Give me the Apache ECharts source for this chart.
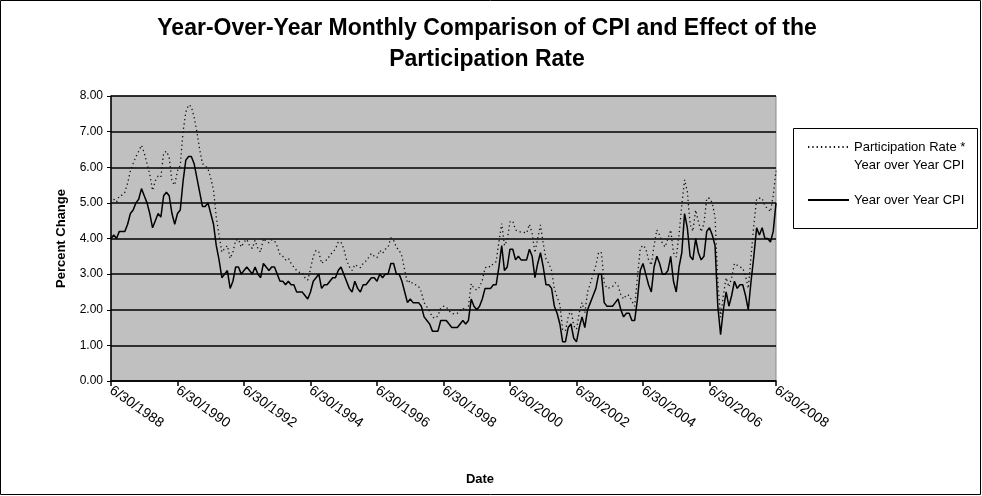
<!DOCTYPE html>
<html>
<head>
<meta charset="utf-8">
<script src="https://cdn.jsdelivr.net/npm/echarts@6/dist/echarts.min.js"></script>
<style>
  html, body { margin: 0; padding: 0; background: #fff; }
  #chart { width: 982px; height: 496px; }
</style>
</head>
<body>
<div id="chart"></div>
<script>
// ---- data (monthly, 6/30/1988 .. 6/30/2008) ----
const startYear = 1988, startMonth = 6, monthCount = 241;

const cpiYoY = [
  4.0,4.1,4.0,4.2,4.2,4.2,4.4,4.7,4.8,5.0,5.1,5.4,
  5.2,5.0,4.7,4.3,4.5,4.7,4.6,5.2,5.3,5.2,4.7,4.4,
  4.7,4.8,5.6,6.2,6.3,6.3,6.1,5.7,5.3,4.9,4.9,5.0,
  4.7,4.4,3.8,3.4,2.9,3.0,3.1,2.6,2.8,3.2,3.2,3.0,
  3.1,3.2,3.1,3.0,3.2,3.0,2.9,3.3,3.2,3.1,3.2,3.2,
  3.0,2.8,2.8,2.7,2.8,2.7,2.7,2.5,2.5,2.5,2.4,2.3,
  2.5,2.8,2.9,3.0,2.6,2.7,2.7,2.8,2.9,2.9,3.1,3.2,
  3.0,2.8,2.6,2.5,2.8,2.6,2.5,2.7,2.7,2.8,2.9,2.9,
  2.8,3.0,2.9,3.0,3.0,3.3,3.3,3.0,3.0,2.8,2.5,2.2,
  2.3,2.2,2.2,2.2,2.1,1.8,1.7,1.6,1.4,1.4,1.4,1.7,
  1.7,1.7,1.6,1.5,1.5,1.5,1.6,1.7,1.6,1.7,2.3,2.1,
  2.0,2.1,2.3,2.6,2.6,2.6,2.7,2.7,3.2,3.8,3.1,3.2,
  3.7,3.7,3.4,3.5,3.4,3.4,3.4,3.7,3.5,2.9,3.3,3.6,
  3.2,2.7,2.7,2.6,2.1,1.9,1.6,1.1,1.1,1.5,1.6,1.2,
  1.1,1.5,1.8,1.5,2.0,2.2,2.4,2.6,3.0,3.0,2.2,2.1,
  2.1,2.1,2.2,2.3,2.0,1.8,1.9,1.9,1.7,1.7,2.3,3.1,
  3.3,3.0,2.7,2.5,3.2,3.5,3.3,3.0,3.0,3.1,3.5,2.8,
  2.5,3.2,3.6,4.7,4.3,3.5,3.4,4.0,3.6,3.4,3.5,4.2,
  4.3,4.1,3.8,2.1,1.3,2.0,2.5,2.1,2.4,2.8,2.6,2.7,
  2.7,2.4,2.0,2.8,3.5,4.3,4.1,4.3,4.0,4.0,3.9,4.2,
  5.0
];

const participationAdjCPI = [
  5.00,5.10,5.02,5.20,5.22,5.30,5.55,5.90,6.10,6.30,6.45,6.62,
  6.40,6.10,5.80,5.35,5.62,5.75,5.72,6.40,6.45,6.28,5.60,5.50,
  5.90,6.05,7.00,7.55,7.75,7.70,7.40,7.00,6.50,6.10,6.05,5.95,
  5.70,5.35,4.60,4.10,3.62,3.72,3.80,3.44,3.62,3.95,3.98,3.76,
  3.90,3.98,3.80,3.72,3.95,3.72,3.62,4.00,3.92,3.88,3.96,3.94,
  3.78,3.55,3.50,3.40,3.45,3.30,3.20,3.10,3.05,3.05,2.90,2.83,
  3.15,3.50,3.67,3.62,3.30,3.37,3.40,3.53,3.62,3.70,3.90,3.90,
  3.72,3.40,3.21,3.10,3.27,3.22,3.18,3.30,3.37,3.47,3.58,3.50,
  3.46,3.67,3.58,3.70,3.75,4.02,3.95,3.75,3.67,3.50,3.10,2.75,
  2.82,2.72,2.70,2.66,2.50,2.20,2.08,1.95,1.79,1.76,1.83,2.05,
  2.10,2.08,1.97,1.90,1.88,1.90,1.97,2.05,1.97,2.10,2.73,2.60,
  2.55,2.64,2.83,3.17,3.23,3.20,3.30,3.35,3.90,4.42,3.80,3.95,
  4.47,4.49,4.24,4.20,4.18,4.17,4.15,4.40,4.14,3.60,4.00,4.38,
  3.86,3.43,3.30,3.10,2.60,2.36,2.15,1.45,1.40,1.80,2.00,1.55,
  1.45,1.92,2.20,1.90,2.50,2.74,3.00,3.25,3.62,3.60,2.76,2.60,
  2.62,2.65,2.76,2.67,2.42,2.30,2.42,2.40,2.24,2.10,2.92,3.72,
  3.81,3.72,3.40,3.25,3.81,4.24,4.10,3.86,3.76,4.00,4.24,3.60,
  3.48,4.10,4.94,5.65,5.32,4.40,4.20,4.80,4.47,4.19,4.42,5.13,
  5.13,5.00,4.60,2.78,1.79,2.40,2.90,2.64,2.90,3.30,3.25,3.20,
  3.17,2.95,2.60,3.50,4.38,5.11,5.13,5.13,4.90,4.85,4.75,5.20,
  5.90
];

const yTicks = [0, 1, 2, 3, 4, 5, 6, 7, 8];
const seriesNames = ['Participation Rate * Year over Year CPI', 'Year over Year CPI'];
const titleText = 'Year-Over-Year Monthly Comparison of CPI and Effect of the\nParticipation Rate';

// month-end date categories, M/D/YYYY
const categories = [];
for (let k = 0; k < monthCount; k++) {
  const m0 = startMonth - 1 + k;
  const y = startYear + Math.floor(m0 / 12);
  const m = (m0 % 12) + 1;
  const d = new Date(y, m, 0).getDate();
  categories.push(m + '/' + d + '/' + y);
}

const FONT = '"Liberation Sans", Arial, sans-serif';
const chart = echarts.init(document.getElementById('chart'), null, { renderer: 'canvas' });

chart.setOption({
  animation: false,
  backgroundColor: '#ffffff',
  title: {
    text: titleText,
    left: 487, top: 13,
    padding: 0,
    textAlign: 'center',
    textStyle: { fontFamily: FONT, fontSize: 23, fontWeight: 'bold', color: '#000', lineHeight: 31 }
  },
  grid: {
    left: 111, right: 206, top: 96, bottom: 115,
    show: true, backgroundColor: '#c0c0c0', borderColor: '#8a8a8a', borderWidth: 1
  },
  graphic: [
    { type: 'rect', shape: { x: 0.5, y: 0.5, width: 980, height: 494 },
      style: { fill: 'none', stroke: '#000', lineWidth: 1 }, z: 100 },
    { type: 'rect', shape: { x: 793.5, y: 128.5, width: 184, height: 100 },
      style: { fill: '#fff', stroke: '#000', lineWidth: 1 }, z: 0 }
  ],
  legend: {
    orient: 'vertical',
    left: 807, top: 120,
    padding: 0,
    itemGap: 17,
    itemWidth: 41, itemHeight: 14,
    selectedMode: false,
    data: seriesNames,
    itemStyle: { opacity: 0, borderWidth: 0 },
    textStyle: {
      fontFamily: FONT, fontSize: 13, color: '#000', lineHeight: 18,
      rich: {
        e: { fontSize: 13, lineHeight: 18 },
        t: { fontFamily: FONT, fontSize: 13, lineHeight: 18, color: '#000' }
      }
    },
    formatter: function (name) {
      if (name === seriesNames[0]) {
        return '{e| }\n{t|Participation Rate *}\n{t|Year over Year CPI}';
      }
      return '{t|Year over Year CPI}';
    }
  },
  xAxis: {
    type: 'category',
    data: categories,
    boundaryGap: false,
    name: 'Date',
    nameLocation: 'middle',
    nameGap: 92,
    nameTextStyle: { fontFamily: FONT, fontSize: 13, fontWeight: 'bold', color: '#000', padding: [0, 0, 0, 73] },
    axisLine: { lineStyle: { color: '#000', width: 1.5 } },
    axisTick: { show: true, interval: 23, length: 5, inside: false, lineStyle: { color: '#000', width: 1.5 } },
    axisLabel: {
      interval: 23, rotate: -35, margin: 8,
      fontFamily: FONT, fontSize: 14, color: '#000'
    },
    splitLine: { show: false }
  },
  yAxis: {
    type: 'value',
    min: yTicks[0], max: yTicks[yTicks.length - 1], interval: 1,
    name: 'Percent Change',
    nameLocation: 'middle',
    nameGap: 43,
    nameRotate: 90,
    nameTextStyle: { fontFamily: FONT, fontSize: 13, fontWeight: 'bold', color: '#000' },
    axisLine: { show: true, lineStyle: { color: '#000', width: 1.5 } },
    axisTick: { show: true, length: 4, lineStyle: { color: '#000', width: 1 } },
    axisLabel: {
      margin: 8, fontFamily: FONT, fontSize: 12, color: '#000',
      formatter: function (v) { return v.toFixed(2); }
    },
    splitLine: { show: true, lineStyle: { color: '#000', width: 1.5 } }
  },
  series: [
    {
      name: seriesNames[0], type: 'line', data: participationAdjCPI,
      symbol: 'none', showSymbol: false,
      lineStyle: { color: '#111', width: 1.3, type: [1.3, 3] },
      itemStyle: { color: '#111' },
      z: 3
    },
    {
      name: seriesNames[1], type: 'line', data: cpiYoY,
      symbol: 'none', showSymbol: false,
      lineStyle: { color: '#000', width: 1.5, type: 'solid' },
      itemStyle: { color: '#000' },
      z: 4
    }
  ]
});
</script>
</body>
</html>
